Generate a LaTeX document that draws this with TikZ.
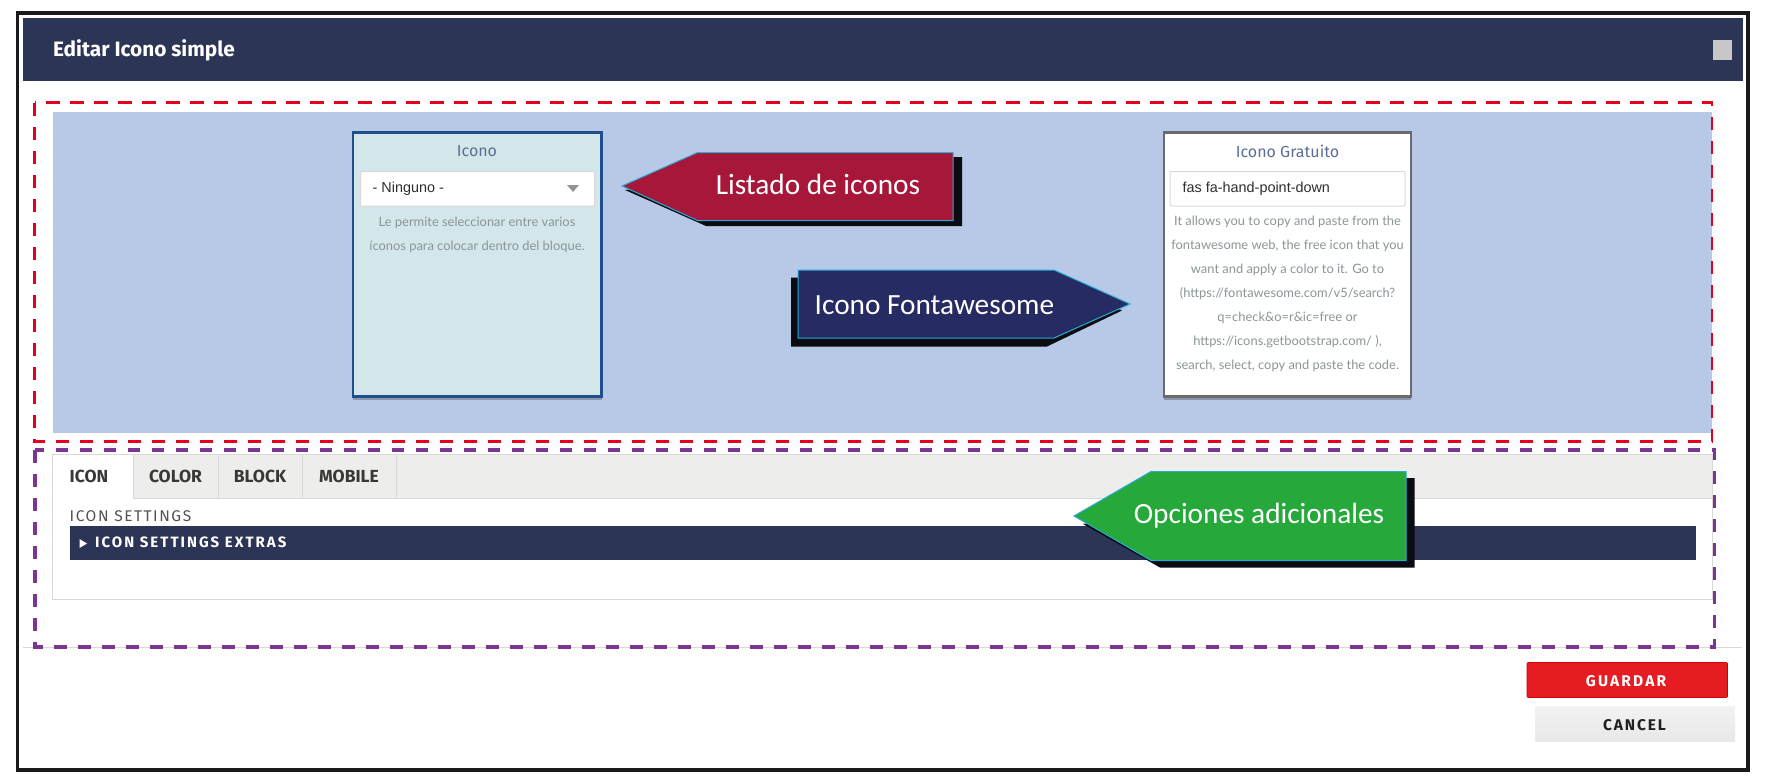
\documentclass[tikz,border=0pt]{standalone}
\usepackage{fontspec}
\usetikzlibrary{shadows}
\newfontfamily\uifont{Fira Sans}
\newfontfamily\helpfont{Lato}
\newfontfamily\callfont{Carlito}
\newfontfamily\inputfont{Liberation Sans}
\definecolor{headcol}{HTML}{2C3556}
\definecolor{panelcol}{HTML}{B7C9E6}
\definecolor{tealcol}{HTML}{D3E6E9}
\definecolor{titlecol}{HTML}{5A6E9A}
\definecolor{helpcol}{HTML}{8B9599}
\definecolor{tabcol}{HTML}{EDEDEB}
\definecolor{linecol}{HTML}{D8D8D8}
\definecolor{edgecol}{HTML}{29ABD6}
\definecolor{shadecol}{HTML}{0B0B12}
\definecolor{reddash}{HTML}{E6001E}
\definecolor{violetdash}{HTML}{7C3591}
\definecolor{cardblue}{HTML}{1F4E8C}
\tikzset{
	card/.style={line width=2.2pt, drop shadow={shadow xshift=0pt, shadow yshift=-3pt, opacity=0.25, fill=black}},
	field/.style={draw=linecol, line width=1pt, fill=white, rounded corners=1pt},
	calltext/.style={text=white, inner sep=0pt, font=\callfont\fontsize{29.3}{29.3}\selectfont},
	helptext/.style={text=helpcol, inner sep=0pt, align=center, font=\helpfont\fontsize{12.9}{24}\selectfont},
	cardtitle/.style={text=titlecol, inner sep=0pt, font=\uifont\fontsize{16}{16}\selectfont},
	tabtext/.style={text=black!78, inner sep=0pt, font=\uifont\bfseries\fontsize{17.5}{17.5}\selectfont},
	inputtext/.style={anchor=west, inner sep=0pt, text=black!82, font=\inputfont\fontsize{14.4}{14.4}\selectfont},
	tabedge/.style={draw=linecol, line width=1pt},
	callout/.style={draw=edgecol, line width=1pt},
	shade/.style={fill=shadecol}
}
\begin{document}
\begin{tikzpicture}[x=1pt,y=-1pt]
	\useasboundingbox[fill=white] (0,0) rectangle (1765,784);

	% outer frame
	\draw[line width=3.5pt, draw=black!90] (17.5,13) rectangle (1748,770);

	% header
	\fill[headcol] (22.5,18) rectangle (1743,81);
	\node[anchor=west, inner sep=0pt, text=white, font=\uifont\bfseries\fontsize{20.8}{20.8}\selectfont] (headtitle) at (53,50) {Editar Icono simple};
	\fill[black!22] (1713,40) rectangle (1732,60);

	% upper area
	\fill[panelcol] (52.5,111.5) rectangle (1712,433);
	\draw[reddash, line width=2.2pt, dash pattern=on 13.5pt off 10.5pt] (34.5,102.5) rectangle (1712,441.5);

	% left card
	\draw[card, draw=cardblue, fill=tealcol] (353,132.5) rectangle (601.5,396.5);
	\node[cardtitle] (icontitle) at (477,151.5) {Icono};
	\draw[field] (360.5,171.5) rectangle (594.5,206);
	\node[inputtext] (iconvalue) at (372.5,189) {- Ninguno -};
	\fill[black!42] (567,185) -- (579,185) -- (573,192) -- cycle;
	\node[helptext] (iconhelp) at (477,234.5) {Le permite seleccionar entre varios\\íconos para colocar dentro del bloque.};

	% right card
	\draw[card, draw=black!58, fill=white] (1164,132.5) rectangle (1411,396.5);
	\node[cardtitle] (freetitle) at (1287.5,151.5) {Icono Gratuito};
	\draw[field] (1170,171.5) rectangle (1405,206);
	\node[inputtext] (freevalue) at (1182.5,189) {fas fa-hand-point-down};
	\node[helptext] (freehelp) at (1287.5,293.8) {It allows you to copy and paste from the\\fontawesome web, the free icon that you\\want and apply a color to it. Go to\\(https://fontawesome.com/v5/search?\\q=check\&o=r\&ic=free or\\https://icons.getbootstrap.com/ ),\\search, select, copy and paste the code.};

	% red arrow
	\fill[shade] (625,190) -- (706,226) -- (962,226) -- (962,157) -- (940,157) -- cycle;
	\draw[callout, fill={rgb,255:red,166;green,23;blue,58}] (622,186) -- (697.5,152.5) -- (953,152.5) -- (953,220.5) -- (697.5,220.5) -- cycle;
	\node[calltext] (listlabel) at (818,184) {Listado de iconos};

	% blue arrow
	\fill[shade] (791,277.5) -- (1047,277.5) -- (1122,310.5) -- (1047,346.5) -- (791,346.5) -- cycle;
	\draw[callout, fill={rgb,255:red,38;green,43;blue,99}] (798,270) -- (1054,270) -- (1130,304) -- (1054,338) -- (798,338) -- cycle;
	\node[calltext, anchor=west] (fontlabel) at (814.5,305) {Icono Fontawesome};

	% tabs
	\draw[tabedge, fill=white] (52.5,454) rectangle (1712,599.5);
	\draw[tabedge, fill=tabcol] (133,454) rectangle (1712,498.5);
	\draw[tabedge] (218,454) -- (218,498.5);
	\draw[tabedge] (302.5,454) -- (302.5,498.5);
	\draw[tabedge] (396,454) -- (396,498.5);
	\fill[white] (53.5,455) rectangle (132.5,499.5);
	\node[tabtext] (icontab) at (89,476) {ICON};
	\node[tabtext] (colortab) at (175.5,476) {COLOR};
	\node[tabtext] (blocktab) at (260,476) {BLOCK};
	\node[tabtext] (mobiletab) at (349,476) {MOBILE};

	% settings
	\node[anchor=west, inner sep=0pt, text=black!68, font=\uifont\fontsize{15.5}{15.5}\selectfont] (settingslabel) at (69.5,516) {\addfontfeature{LetterSpace=10}ICON SETTINGS};
	\fill[headcol] (69.5,525.5) rectangle (1695.5,560);
	\fill[white] (79.5,539) -- (87,543.5) -- (79.5,548) -- cycle;
	\node[anchor=west, inner sep=0pt, text=white, font=\uifont\bfseries\fontsize{15}{15}\selectfont] (extraslabel) at (95,542.5) {\addfontfeature{LetterSpace=13.5}ICON SETTINGS EXTRAS};

	% green arrow
	\fill[shade] (1083,524) -- (1160,567.5) -- (1414.5,567.5) -- (1414.5,478) -- (1390,478) -- cycle;
	\draw[callout, fill={rgb,255:red,39;green,168;blue,59}] (1074,516) -- (1151,471.5) -- (1406,471.5) -- (1406,560.5) -- (1151,560.5) -- cycle;
	\node[calltext] (extralabel) at (1259,515.5) {Opciones adicionales};

	% lower area
	\draw[linecol, line width=0.8pt] (23,647) -- (1742,647);
	\draw[violetdash, line width=3.6pt, dash pattern=on 12.5pt off 11.5pt] (35,450) rectangle (1714.5,647);

	% buttons
	\draw[draw=red!80!black, fill={rgb,255:red,231;green,28;blue,35}, line width=0.6pt, rounded corners=1pt] (1527,662.5) rectangle (1727.5,697.5);
	\node[inner sep=0pt, text=white, font=\uifont\bfseries\fontsize{15.5}{15.5}\selectfont] (savelabel) at (1626,681) {\addfontfeature{LetterSpace=14}GUARDAR};
	\fill[top color=black!5, bottom color=black!9] (1535.5,706) rectangle (1735,741.5);
	\node[inner sep=0pt, text=black!88, font=\uifont\bfseries\fontsize{15.5}{15.5}\selectfont] (cancellabel) at (1634.5,725) {\addfontfeature{LetterSpace=12}CANCEL};
\end{tikzpicture}
\end{document}
